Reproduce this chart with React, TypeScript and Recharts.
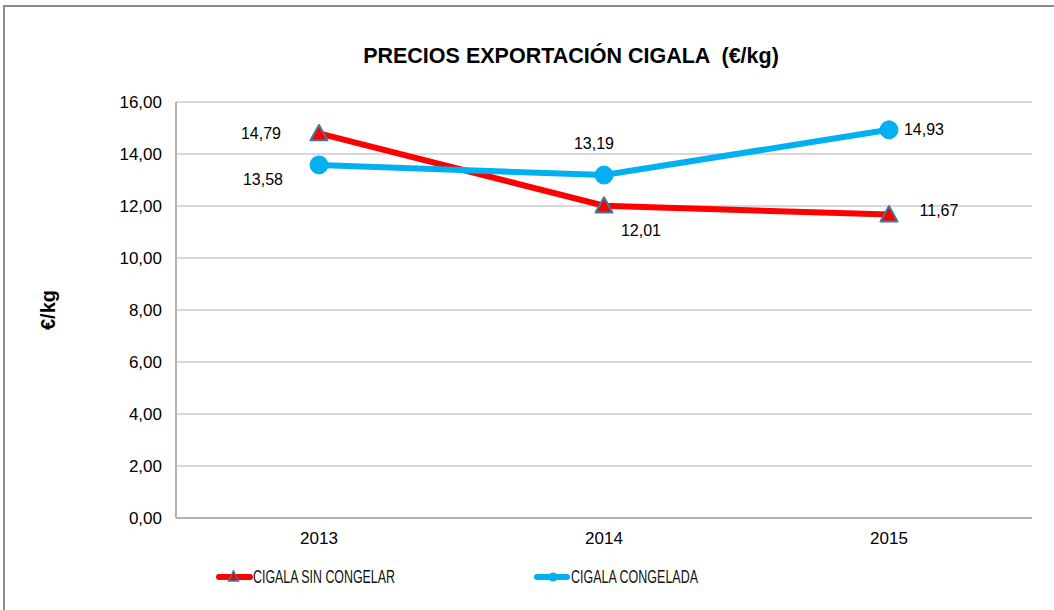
import React from "react";
import { LineChart, Line, XAxis, YAxis, CartesianGrid, LabelList } from "recharts";

const years = ["2013", "2014", "2015"];
const sinCongelar = [14.79, 12.01, 11.67];
const congelada = [13.58, 13.19, 14.93];
const yTicks = [0, 2, 4, 6, 8, 10, 12, 14, 16];
const seriesNames = ["CIGALA SIN CONGELAR", "CIGALA CONGELADA"];

const data = years.map((y, i) => ({ year: y, sin: sinCongelar[i], con: congelada[i] }));

const RED = "#FF0000";
const BLUE = "#00B0F0";
const TRI_STROKE = "#3A7D9C";
const FONT = "'Liberation Sans', Arial, sans-serif";

// label placement offsets (dx, dy of text center relative to point)
const sinOffsets = [[-58, 0], [37, 25], [50, -4]];
const conOffsets = [[-56, 15], [-10, -32], [35, 0]];

const fmt = (v: number) => v.toFixed(2).replace(".", ",");

const makeLabel = (offs: number[][]) => (props: any) => {
  const { x, y, value, index } = props;
  const o = offs[index] || [0, 0];
  return (
    <text
      x={x + o[0]}
      y={y + o[1]}
      textAnchor="middle"
      dominantBaseline="central"
      fontSize={16}
      fontFamily={FONT}
      fill="#000"
    >
      {fmt(value)}
    </text>
  );
};

const Triangle = (props: any) => {
  const { cx, cy } = props;
  if (cx == null || cy == null) return null;
  const s = 8.5;
  return (
    <polygon
      points={`${cx},${cy - s} ${cx + s},${cy + s * 0.8} ${cx - s},${cy + s * 0.8}`}
      fill={RED}
      stroke={TRI_STROKE}
      strokeWidth={2}
      strokeLinejoin="round"
    />
  );
};

const Circle = (props: any) => {
  const { cx, cy } = props;
  if (cx == null || cy == null) return null;
  return <circle cx={cx} cy={cy} r={9} fill={BLUE} stroke={BLUE} strokeWidth={1} />;
};

export default function App() {
  return (
    <div style={{ position: "absolute", left: 0, top: 0, width: 1054, height: 610, overflow: "hidden", background: "#fff" }}>
      <div
        style={{
          position: "absolute",
          left: 3,
          top: 5,
          width: 1080,
          height: 640,
          border: "2px solid #8a8a8a",
          boxSizing: "border-box",
        }}
      />
      <div
        style={{
          position: "absolute",
          left: 0,
          width: 1142,
          top: 44,
          textAlign: "center",
          fontFamily: FONT,
          fontWeight: "bold",
          fontSize: 21.5,
          color: "#000",
          whiteSpace: "pre",
        }}
      >
        {"PRECIOS EXPORTACIÓN CIGALA  (€/kg)"}
      </div>
      <div style={{ position: "absolute", left: 0, top: 0 }}>
        <LineChart width={1054} height={610} data={data} margin={{ top: 102, right: 22, bottom: 62, left: 0 }}>
          <CartesianGrid horizontal={true} vertical={false} stroke="#b3b3b3" strokeWidth={1} />
          <XAxis
            dataKey="year"
            padding={{ left: 143, right: 143 }}
            height={30}
            tickLine={false}
            tickSize={0}
            tickMargin={14}
            axisLine={{ stroke: "#b3b3b3", strokeWidth: 2 }}
            tick={{ fontSize: 17, fontFamily: FONT, fill: "#000" }}
          />
          <YAxis
            width={176}
            domain={[0, 16]}
            ticks={yTicks}
            interval={0}
            tickFormatter={fmt}
            tickLine={false}
            tickSize={0}
            tickMargin={14}
            axisLine={{ stroke: "#b3b3b3", strokeWidth: 2 }}
            tick={{ fontSize: 17, fontFamily: FONT, fill: "#000" }}
            label={{
              value: "€/kg",
              angle: -90,
              position: "insideLeft",
              offset: 48,
              style: { fontSize: 20, fontWeight: "bold", fontFamily: FONT, fill: "#000", textAnchor: "middle" },
            }}
          />
          <Line
            dataKey="sin"
            name={seriesNames[0]}
            stroke={RED}
            strokeWidth={6}
            dot={<Triangle />}
            activeDot={false}
            isAnimationActive={false}
          >
            <LabelList dataKey="sin" content={makeLabel(sinOffsets)} />
          </Line>
          <Line
            dataKey="con"
            name={seriesNames[1]}
            stroke={BLUE}
            strokeWidth={6}
            dot={<Circle />}
            activeDot={false}
            isAnimationActive={false}
          >
            <LabelList dataKey="con" content={makeLabel(conOffsets)} />
          </Line>
        </LineChart>
      </div>
      <svg style={{ position: "absolute", left: 0, top: 560 }} width={1054} height={36}>
        <line x1={219} y1={17} x2={250} y2={17} stroke={RED} strokeWidth={6} strokeLinecap="round" />
        <polygon points="233.5,11 238.5,21 228.5,21" fill={RED} stroke={TRI_STROKE} strokeWidth={1.5} />
        <text
          x={253}
          y={17}
          dominantBaseline="central"
          fontFamily={FONT}
          fontSize={18}
          fill="#111"
          textLength={142}
          lengthAdjust="spacingAndGlyphs"
        >
          {seriesNames[0]}
        </text>
        <line x1={537} y1={17} x2={567} y2={17} stroke={BLUE} strokeWidth={6} strokeLinecap="round" />
        <circle cx={553} cy={17} r={4.5} fill={BLUE} />
        <text
          x={571}
          y={17}
          dominantBaseline="central"
          fontFamily={FONT}
          fontSize={18}
          fill="#111"
          textLength={127}
          lengthAdjust="spacingAndGlyphs"
        >
          {seriesNames[1]}
        </text>
      </svg>
    </div>
  );
}
